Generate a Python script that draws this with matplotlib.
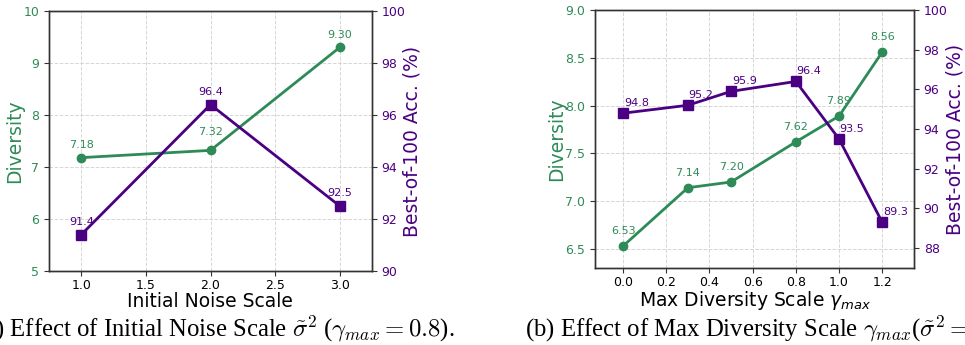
import matplotlib
matplotlib.use("Agg")
import matplotlib.pyplot as plt

# ---- data ----
x_noise = [1.0, 2.0, 3.0]
div_noise = [7.18, 7.32, 9.30]
acc_noise = [91.4, 96.4, 92.5]
div_noise_labels = ["7.18", "7.32", "9.30"]
acc_noise_labels = ["91.4", "96.4", "92.5"]

x_gamma = [0.0, 0.3, 0.5, 0.8, 1.0, 1.2]
div_gamma = [6.53, 7.14, 7.20, 7.62, 7.89, 8.56]
acc_gamma = [94.8, 95.2, 95.9, 96.4, 93.5, 89.3]
div_gamma_labels = ["6.53", "7.14", "7.20", "7.62", "7.89", "8.56"]
acc_gamma_labels = ["94.8", "95.2", "95.9", "96.4", "93.5", "89.3"]

xticks_noise = [1.0, 1.5, 2.0, 2.5, 3.0]
yticks_div_noise = [5, 6, 7, 8, 9, 10]
yticks_acc_noise = [90, 92, 94, 96, 98, 100]
xticks_gamma = [0.0, 0.2, 0.4, 0.6, 0.8, 1.0, 1.2]
yticks_div_gamma = [6.5, 7.0, 7.5, 8.0, 8.5, 9.0]
yticks_acc_gamma = [88, 90, 92, 94, 96, 98, 100]

GREEN = "#2e8b57"
PURPLE = "#4b0082"
SPINE = "#333333"

fig = plt.figure(figsize=(9.65, 3.45), dpi=100)

def style(ax, ax2):
    for a in (ax, ax2):
        for s in a.spines.values():
            s.set_color(SPINE)
            s.set_linewidth(1.0)
    ax.tick_params(axis="y", colors=GREEN, labelsize=9, length=3.5)
    ax.tick_params(axis="y", color=SPINE)
    ax2.tick_params(axis="y", colors=PURPLE, labelsize=9, length=3.5)
    ax2.tick_params(axis="y", color=SPINE)
    ax.tick_params(axis="x", labelsize=9, length=3.5, color=SPINE, pad=2.5)
    ax.grid(True, linestyle="--", color="#cccccc", linewidth=0.7, alpha=0.8)
    ax.set_axisbelow(True)

# ---- (a) ----
ax = fig.add_axes([49/965, 1 - 271/345, 323/965, 260/345])
ax2 = ax.twinx()
ax.plot(x_noise, div_noise, "-o", color=GREEN, lw=2, ms=6)
ax2.plot(x_noise, acc_noise, "-s", color=PURPLE, lw=2, ms=6.5)
ax.set_xlim(0.75, 3.25)
ax.set_ylim(5, 10)
ax2.set_ylim(90, 100)
ax.set_xticks(xticks_noise)
ax.set_xticklabels([f"{v:.1f}" for v in xticks_noise])
ax.set_yticks(yticks_div_noise)
ax2.set_yticks(yticks_acc_noise)
style(ax, ax2)
offs_a = [9, 13, 9]
for xv, yv, lab, o in zip(x_noise, div_noise, div_noise_labels, offs_a):
    ax.annotate(lab, (xv, yv), xytext=(0, o), textcoords="offset points",
                ha="center", va="center", color=GREEN, fontsize=8)
for xv, yv, lab in zip(x_noise, acc_noise, acc_noise_labels):
    ax2.annotate(lab, (xv, yv), xytext=(0, 9), textcoords="offset points",
                 ha="center", va="center", color=PURPLE, fontsize=8)
ax.set_xlabel("Initial Noise Scale", fontsize=13.5)
ax.set_ylabel("Diversity", fontsize=13.5, color=GREEN)
ax2.set_ylabel("Best-of-100 Acc. (%)", fontsize=13.5, color=PURPLE)
ax.xaxis.label.set_va("center")
ax.yaxis.label.set_va("center")
ax2.yaxis.label.set_va("center")
ax.xaxis.set_label_coords(0.4975, -0.118)
ax.yaxis.set_label_coords(-0.105, 0.5)
ax2.yaxis.set_label_coords(1.124, 0.5)

# ---- (b) ----
bx = fig.add_axes([595/965, 1 - 268/345, 319/965, 258/345])
bx2 = bx.twinx()
bx.plot(x_gamma, div_gamma, "-o", color=GREEN, lw=2, ms=6)
bx2.plot(x_gamma, acc_gamma, "-s", color=PURPLE, lw=2, ms=6.5)
bx.set_xlim(-0.13, 1.347)
bx.set_ylim(6.3, 9.0)
bx2.set_ylim(87, 100)
bx.set_xticks(xticks_gamma)
bx.set_xticklabels([f"{v:.1f}" for v in xticks_gamma])
bx.set_yticks(yticks_div_gamma)
bx.set_yticklabels([f"{v:.1f}" for v in yticks_div_gamma])
bx2.set_yticks(yticks_acc_gamma)
style(bx, bx2)
for xv, yv, lab in zip(x_gamma, div_gamma, div_gamma_labels):
    bx.annotate(lab, (xv, yv), xytext=(0, 10.5), textcoords="offset points",
                ha="center", va="center", color=GREEN, fontsize=8)
for xv, yv, lab in zip(x_gamma, acc_gamma, acc_gamma_labels):
    bx2.annotate(lab, (xv, yv), xytext=(0.5, 7.5), textcoords="offset points",
                 ha="left", va="center", color=PURPLE, fontsize=8)
bx.set_xlabel(r"Max Diversity Scale $\gamma_{max}$", fontsize=13.5)
bx.set_ylabel("Diversity", fontsize=13.5, color=GREEN)
bx2.set_ylabel("Best-of-100 Acc. (%)", fontsize=13.5, color=PURPLE)
bx.xaxis.label.set_va("center")
bx.yaxis.label.set_va("center")
bx2.yaxis.label.set_va("center")
bx.xaxis.set_label_coords(0.503, -0.126)
bx.yaxis.set_label_coords(-0.119, 0.5)
bx2.yaxis.set_label_coords(1.128, 0.5)

# ---- captions (cropped like the reference) ----
fig.text(455/965, 8.3/345,
         r"(a) Effect of Initial Noise Scale $\tilde{\sigma}^2$ ($\gamma_{max} = 0.8$).",
         ha="right", va="baseline", fontsize=17.8, family="Liberation Serif",
         math_fontfamily="cm")
fig.text(525/965, 8.3/345,
         r"(b) Effect of Max Diversity Scale $\gamma_{max}$($\tilde{\sigma}^2 = 2.0$).",
         ha="left", va="baseline", fontsize=17.8, family="Liberation Serif",
         math_fontfamily="cm")

fig.savefig("out.png", dpi=100)
